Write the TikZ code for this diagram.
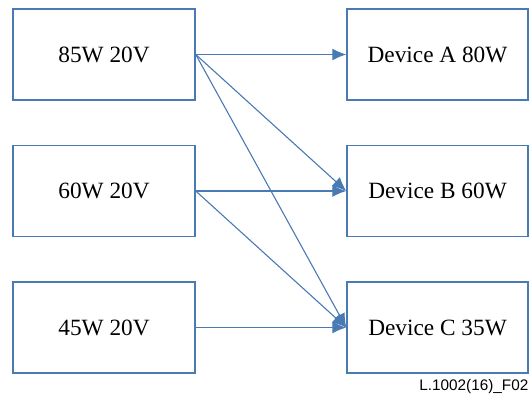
\documentclass[tikz,border=0pt]{standalone}
\usepackage{fontspec}
\setmainfont{Liberation Serif}
\newfontfamily\labelfont{Liberation Sans}
\usetikzlibrary{arrows.meta}
\definecolor{edge}{RGB}{74,122,180}
\begin{document}
\begin{tikzpicture}[x=1bp,y=-1bp,
  box/.style={draw=edge,line width=1.5bp,minimum width=182bp,minimum height=91bp,inner sep=0pt,font=\fontsize{23.3bp}{28bp}\selectfont},
  link/.style={draw=edge,line width=1.1bp,-{Latex[length=14bp,width=12bp]}}]
\useasboundingbox (0,0) rectangle (530,399);
\node[box] (s85) at (104,54.5) {85W 20V};
\node[box] (s60) at (104,191) {60W 20V};
\node[box] (s45) at (104,327.5) {45W 20V};
\node[box,minimum width=181bp] (da) at (437.5,54.5) {Device A 80W};
\node[box,minimum width=181bp] (db) at (437.5,191) {Device B 60W};
\node[box,minimum width=181bp] (dc) at (437.5,327.5) {Device C 35W};
\draw[link] (s85.east) -- (da.west);
\draw[link] (s85.east) -- (db.west);
\draw[link] (s85.east) -- (dc.west);
\draw[link] (s60.east) -- (db.west);
\draw[link] (s60.east) -- (dc.west);
\draw[link] (s45.east) -- (dc.west);
\node[anchor=east,inner sep=0pt,font=\labelfont\fontsize{15.3bp}{18bp}\selectfont] (fig) at (528.5,386.5) {L.1002(16)\_F02};
\end{tikzpicture}
\end{document}
